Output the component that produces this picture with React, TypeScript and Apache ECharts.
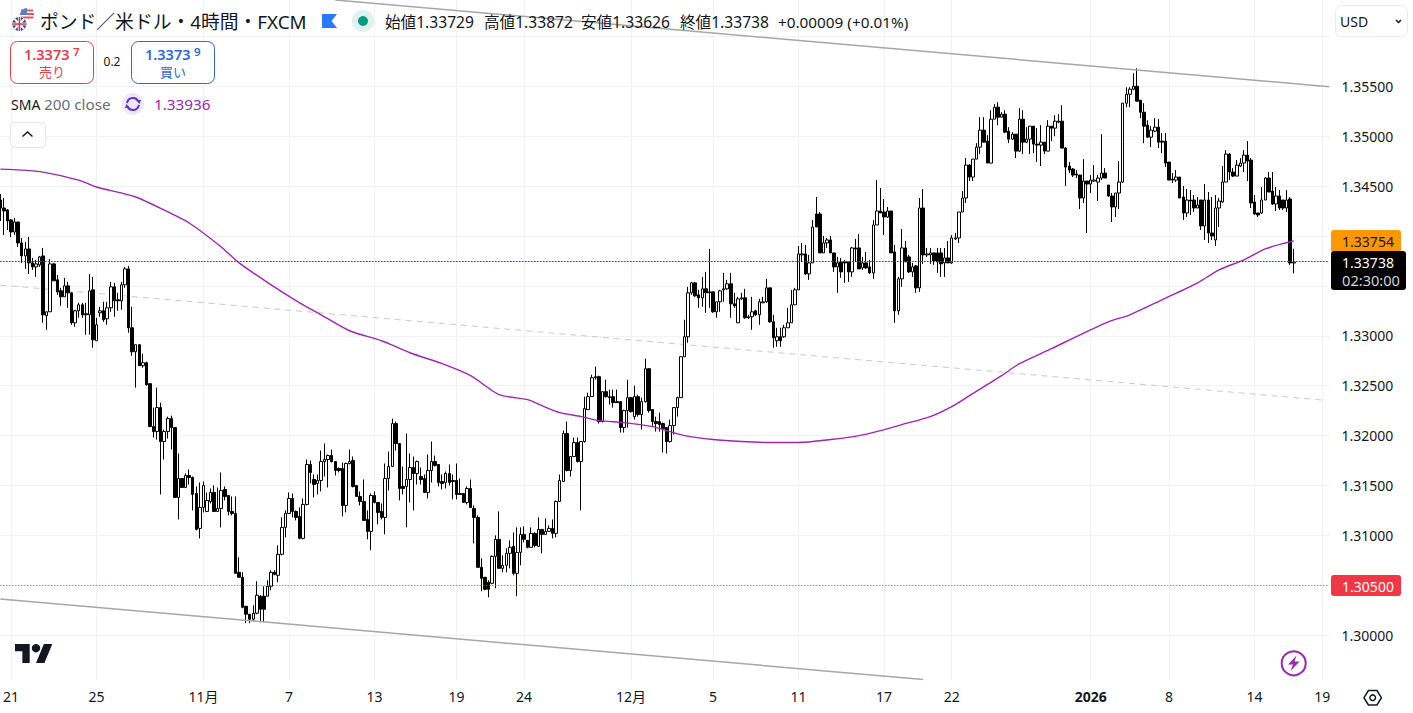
import React, { useEffect, useRef } from "react";
import * as echarts from "echarts";

// open, close, low, high — GBP/USD 4h candles
const candles: number[][] = [
[1.3436,1.3428,1.3415,1.3442],[1.3428,1.3425,1.3401,1.3438],[1.3426,1.3415,1.3406,1.3427],[1.3416,1.3404,1.3399,1.3417],[1.3404,1.3414,1.3401,1.3418],
[1.3414,1.3393,1.3389,1.3414],[1.3393,1.3380,1.3373,1.3398],[1.3380,1.3387,1.3367,1.3394],[1.3387,1.3373,1.3362,1.3399],[1.3373,1.3369,1.3366,1.3378],
[1.3369,1.3372,1.3359,1.3376],[1.3371,1.3379,1.3369,1.3380],[1.3380,1.3321,1.3313,1.3388],[1.3320,1.3324,1.3306,1.3324],[1.3324,1.3372,1.3324,1.3377],
[1.3372,1.3355,1.3355,1.3373],[1.3356,1.3344,1.3341,1.3361],[1.3345,1.3339,1.3330,1.3348],[1.3339,1.3350,1.3339,1.3358],[1.3350,1.3343,1.3328,1.3354],
[1.3343,1.3313,1.3311,1.3343],[1.3313,1.3325,1.3309,1.3326],[1.3325,1.3331,1.3318,1.3333],[1.3331,1.3321,1.3318,1.3333],[1.3322,1.3321,1.3301,1.3333],
[1.3321,1.3345,1.3301,1.3362],[1.3346,1.3296,1.3288,1.3359],[1.3295,1.3311,1.3295,1.3318],[1.3323,1.3325,1.3319,1.3329],[1.3325,1.3316,1.3314,1.3334],
[1.3317,1.3328,1.3311,1.3334],[1.3328,1.3349,1.3324,1.3354],[1.3349,1.3335,1.3319,1.3353],[1.3336,1.3335,1.3325,1.3343],[1.3335,1.3351,1.3326,1.3354],
[1.3351,1.3367,1.3348,1.3369],[1.3367,1.3308,1.3303,1.3370],[1.3308,1.3284,1.3280,1.3329],[1.3284,1.3291,1.3248,1.3291],[1.3291,1.3270,1.3270,1.3291],
[1.3270,1.3273,1.3268,1.3282],[1.3273,1.3251,1.3250,1.3274],[1.3252,1.3209,1.3209,1.3252],[1.3209,1.3204,1.3198,1.3228],[1.3204,1.3228,1.3196,1.3248],
[1.3228,1.3194,1.3141,1.3233],[1.3194,1.3204,1.3176,1.3206],[1.3204,1.3217,1.3197,1.3219],[1.3217,1.3208,1.3186,1.3220],[1.3208,1.3138,1.3138,1.3208],
[1.3138,1.3157,1.3116,1.3182],[1.3157,1.3148,1.3148,1.3157],[1.3148,1.3160,1.3148,1.3162],[1.3160,1.3158,1.3151,1.3166],[1.3158,1.3141,1.3125,1.3159],
[1.3142,1.3106,1.3105,1.3149],[1.3107,1.3128,1.3097,1.3153],[1.3128,1.3150,1.3123,1.3154],[1.3124,1.3135,1.3124,1.3143],[1.3134,1.3143,1.3132,1.3147],
[1.3143,1.3124,1.3124,1.3150],[1.3124,1.3127,1.3124,1.3148],[1.3127,1.3145,1.3108,1.3163],[1.3146,1.3139,1.3135,1.3149],[1.3140,1.3124,1.3120,1.3140],
[1.3124,1.3122,1.3120,1.3139],[1.3122,1.3062,1.3062,1.3139],[1.3063,1.3058,1.3058,1.3078],[1.3058,1.3028,1.3027,1.3063],[1.3029,1.3021,1.3012,1.3029],
[1.3021,1.3016,1.3012,1.3021],[1.3016,1.3022,1.3014,1.3030],[1.3022,1.3040,1.3021,1.3054],[1.3039,1.3026,1.3013,1.3040],[1.3039,1.3026,1.3013,1.3049],
[1.3039,1.3049,1.3039,1.3055],[1.3049,1.3063,1.3045,1.3065],[1.3063,1.3061,1.3060,1.3065],[1.3060,1.3081,1.3053,1.3090],[1.3081,1.3108,1.3080,1.3118],
[1.3108,1.3122,1.3098,1.3125],[1.3122,1.3137,1.3122,1.3143],[1.3137,1.3124,1.3118,1.3142],[1.3124,1.3118,1.3115,1.3125],[1.3119,1.3097,1.3096,1.3128],
[1.3097,1.3131,1.3096,1.3137],[1.3131,1.3171,1.3130,1.3176],[1.3171,1.3163,1.3152,1.3175],[1.3156,1.3151,1.3138,1.3161],[1.3152,1.3155,1.3141,1.3161],
[1.3155,1.3174,1.3144,1.3185],[1.3174,1.3176,1.3159,1.3192],[1.3176,1.3180,1.3148,1.3181],[1.3180,1.3174,1.3173,1.3186],[1.3174,1.3165,1.3160,1.3174],
[1.3167,1.3165,1.3163,1.3168],[1.3167,1.3130,1.3119,1.3173],[1.3130,1.3172,1.3123,1.3173],[1.3172,1.3174,1.3171,1.3186],[1.3175,1.3149,1.3148,1.3179],
[1.3150,1.3139,1.3139,1.3150],[1.3139,1.3134,1.3130,1.3144],[1.3134,1.3115,1.3115,1.3156],[1.3116,1.3104,1.3096,1.3125],[1.3104,1.3140,1.3085,1.3142],
[1.3140,1.3133,1.3132,1.3144],[1.3133,1.3123,1.3111,1.3133],[1.3124,1.3118,1.3116,1.3132],[1.3118,1.3157,1.3101,1.3172],[1.3157,1.3169,1.3145,1.3184],
[1.3169,1.3212,1.3169,1.3217],[1.3212,1.3192,1.3185,1.3214],[1.3192,1.3147,1.3135,1.3192],[1.3149,1.3147,1.3141,1.3169],[1.3149,1.3156,1.3108,1.3202],
[1.3156,1.3168,1.3133,1.3182],[1.3168,1.3162,1.3125,1.3179],[1.3162,1.3174,1.3151,1.3175],[1.3159,1.3156,1.3151,1.3168],[1.3157,1.3143,1.3143,1.3161],
[1.3143,1.3165,1.3137,1.3181],[1.3165,1.3174,1.3153,1.3194],[1.3174,1.3170,1.3169,1.3180],[1.3171,1.3153,1.3149,1.3171],[1.3154,1.3152,1.3146,1.3161],
[1.3153,1.3162,1.3147,1.3164],[1.3162,1.3153,1.3150,1.3171],[1.3155,1.3154,1.3136,1.3161],[1.3155,1.3141,1.3136,1.3172],[1.3142,1.3141,1.3141,1.3157],
[1.3142,1.3133,1.3133,1.3142],[1.3133,1.3147,1.3131,1.3149],[1.3147,1.3128,1.3128,1.3156],[1.3127,1.3118,1.3092,1.3130],[1.3118,1.3068,1.3068,1.3120],
[1.3068,1.3057,1.3044,1.3077],[1.3058,1.3046,1.3045,1.3058],[1.3053,1.3046,1.3038,1.3055],[1.3052,1.3079,1.3051,1.3080],[1.3079,1.3096,1.3047,1.3100],
[1.3096,1.3067,1.3067,1.3124],[1.3067,1.3070,1.3063,1.3080],[1.3070,1.3082,1.3063,1.3087],[1.3082,1.3088,1.3067,1.3095],[1.3089,1.3062,1.3060,1.3103],
[1.3062,1.3083,1.3039,1.3108],[1.3083,1.3101,1.3070,1.3108],[1.3101,1.3096,1.3093,1.3109],[1.3095,1.3088,1.3087,1.3095],[1.3088,1.3102,1.3088,1.3108],
[1.3102,1.3090,1.3088,1.3103],[1.3089,1.3106,1.3089,1.3118],[1.3106,1.3101,1.3082,1.3106],[1.3101,1.3104,1.3101,1.3117],[1.3104,1.3107,1.3104,1.3110],
[1.3107,1.3102,1.3097,1.3116],[1.3102,1.3134,1.3098,1.3135],[1.3134,1.3155,1.3134,1.3161],[1.3154,1.3202,1.3154,1.3205],[1.3202,1.3165,1.3164,1.3214],
[1.3165,1.3179,1.3159,1.3179],[1.3179,1.3193,1.3179,1.3198],[1.3193,1.3174,1.3173,1.3198],[1.3174,1.3194,1.3125,1.3194],[1.3194,1.3227,1.3193,1.3239],
[1.3226,1.3239,1.3226,1.3243],[1.3239,1.3258,1.3239,1.3261],[1.3258,1.3259,1.3256,1.3269],[1.3259,1.3214,1.3212,1.3260],[1.3214,1.3244,1.3213,1.3244],
[1.3244,1.3239,1.3238,1.3256],[1.3239,1.3238,1.3231,1.3246],[1.3239,1.3233,1.3228,1.3246],[1.3234,1.3233,1.3233,1.3246],[1.3234,1.3208,1.3203,1.3234],
[1.3208,1.3225,1.3203,1.3226],[1.3225,1.3238,1.3208,1.3256],[1.3238,1.3224,1.3223,1.3238],[1.3219,1.3239,1.3216,1.3250],[1.3239,1.3221,1.3219,1.3241],
[1.3221,1.3234,1.3206,1.3238],[1.3234,1.3267,1.3233,1.3277],[1.3267,1.3225,1.3223,1.3267],[1.3226,1.3214,1.3209,1.3226],[1.3214,1.3212,1.3204,1.3219],
[1.3214,1.3211,1.3204,1.3223],[1.3212,1.3207,1.3183,1.3213],[1.3208,1.3194,1.3182,1.3208],[1.3194,1.3210,1.3193,1.3216],[1.3210,1.3228,1.3201,1.3228],
[1.3228,1.3238,1.3219,1.3239],[1.3238,1.3279,1.3238,1.3279],[1.3279,1.3299,1.3279,1.3316],[1.3299,1.3343,1.3293,1.3349],[1.3343,1.3353,1.3341,1.3354],
[1.3353,1.3340,1.3339,1.3354],[1.3341,1.3338,1.3328,1.3346],[1.3338,1.3347,1.3329,1.3359],[1.3347,1.3343,1.3323,1.3364],[1.3344,1.3343,1.3328,1.3387],
[1.3344,1.3324,1.3323,1.3344],[1.3324,1.3334,1.3318,1.3334],[1.3334,1.3345,1.3324,1.3346],[1.3346,1.3347,1.3334,1.3363],[1.3347,1.3352,1.3346,1.3356],
[1.3352,1.3332,1.3318,1.3363],[1.3332,1.3330,1.3328,1.3343],[1.3313,1.3337,1.3313,1.3339],[1.3337,1.3338,1.3336,1.3343],[1.3338,1.3318,1.3317,1.3347],
[1.3318,1.3319,1.3317,1.3321],[1.3319,1.3324,1.3306,1.3339],[1.3325,1.3321,1.3320,1.3326],[1.3321,1.3334,1.3311,1.3337],[1.3333,1.3334,1.3333,1.3339],
[1.3334,1.3348,1.3333,1.3357],[1.3348,1.3314,1.3313,1.3348],[1.3314,1.3298,1.3288,1.3321],[1.3295,1.3299,1.3289,1.3308],[1.3299,1.3295,1.3289,1.3308],
[1.3299,1.3308,1.3298,1.3311],[1.3308,1.3313,1.3308,1.3328],[1.3313,1.3331,1.3313,1.3346],[1.3331,1.3346,1.3331,1.3348],[1.3346,1.3382,1.3346,1.3390],
[1.3381,1.3382,1.3374,1.3393],[1.3382,1.3362,1.3361,1.3391],[1.3362,1.3373,1.3356,1.3381],[1.3373,1.3409,1.3373,1.3416],[1.3422,1.3409,1.3409,1.3439],
[1.3422,1.3383,1.3383,1.3424],[1.3383,1.3393,1.3383,1.3400],[1.3393,1.3396,1.3388,1.3398],[1.3396,1.3383,1.3383,1.3400],[1.3383,1.3369,1.3364,1.3383],
[1.3369,1.3373,1.3343,1.3379],[1.3374,1.3364,1.3358,1.3378],[1.3374,1.3373,1.3353,1.3376],[1.3374,1.3364,1.3354,1.3374],[1.3364,1.3388,1.3359,1.3389],
[1.3388,1.3387,1.3374,1.3397],[1.3388,1.3367,1.3367,1.3402],[1.3368,1.3373,1.3366,1.3379],[1.3373,1.3368,1.3367,1.3384],[1.3369,1.3363,1.3362,1.3376],
[1.3363,1.3411,1.3357,1.3416],[1.3411,1.3425,1.3411,1.3456],[1.3425,1.3423,1.3423,1.3448],[1.3424,1.3419,1.3401,1.3437],[1.3419,1.3425,1.3418,1.3429],
[1.3425,1.3383,1.3383,1.3425],[1.3384,1.3325,1.3313,1.3391],[1.3325,1.3357,1.3321,1.3359],[1.3357,1.3388,1.3349,1.3407],[1.3388,1.3374,1.3374,1.3395],
[1.3379,1.3364,1.3363,1.3381],[1.3364,1.3369,1.3359,1.3373],[1.3370,1.3348,1.3343,1.3371],[1.3348,1.3428,1.3344,1.3438],[1.3428,1.3381,1.3372,1.3447],
[1.3381,1.3382,1.3379,1.3388],[1.3381,1.3383,1.3372,1.3388],[1.3383,1.3375,1.3371,1.3383],[1.3383,1.3374,1.3363,1.3388],[1.3383,1.3372,1.3359,1.3388],
[1.3373,1.3378,1.3359,1.3388],[1.3378,1.3373,1.3373,1.3395],[1.3373,1.3398,1.3372,1.3401],[1.3397,1.3398,1.3396,1.3403],[1.3398,1.3424,1.3393,1.3424],
[1.3424,1.3438,1.3424,1.3445],[1.3438,1.3471,1.3433,1.3478],[1.3471,1.3459,1.3455,1.3472],[1.3459,1.3477,1.3455,1.3477],[1.3477,1.3489,1.3477,1.3493],
[1.3489,1.3506,1.3482,1.3519],[1.3506,1.3494,1.3494,1.3519],[1.3495,1.3473,1.3473,1.3501],[1.3473,1.3517,1.3473,1.3526],[1.3517,1.3529,1.3517,1.3532],
[1.3529,1.3519,1.3511,1.3534],[1.3519,1.3522,1.3519,1.3524],[1.3522,1.3504,1.3503,1.3526],[1.3505,1.3497,1.3493,1.3509],[1.3497,1.3502,1.3496,1.3504],
[1.3502,1.3485,1.3478,1.3502],[1.3485,1.3517,1.3484,1.3528],[1.3517,1.3494,1.3482,1.3526],[1.3494,1.3497,1.3493,1.3509],[1.3497,1.3510,1.3482,1.3510],
[1.3510,1.3492,1.3483,1.3510],[1.3492,1.3491,1.3474,1.3508],[1.3491,1.3494,1.3470,1.3511],[1.3494,1.3485,1.3482,1.3494],[1.3485,1.3510,1.3485,1.3516],
[1.3510,1.3508,1.3495,1.3510],[1.3508,1.3515,1.3500,1.3521],[1.3514,1.3515,1.3513,1.3522],[1.3515,1.3488,1.3488,1.3531],[1.3488,1.3469,1.3450,1.3489],
[1.3470,1.3466,1.3463,1.3474],[1.3467,1.3461,1.3459,1.3468],[1.3462,1.3461,1.3458,1.3466],[1.3461,1.3438,1.3427,1.3461],[1.3438,1.3455,1.3433,1.3477],
[1.3455,1.3452,1.3403,1.3455],[1.3452,1.3456,1.3443,1.3461],[1.3455,1.3456,1.3454,1.3471],[1.3454,1.3458,1.3435,1.3461],[1.3458,1.3463,1.3456,1.3502],
[1.3463,1.3458,1.3458,1.3468],[1.3451,1.3440,1.3439,1.3451],[1.3440,1.3429,1.3414,1.3443],[1.3429,1.3443,1.3419,1.3443],[1.3443,1.3454,1.3427,1.3475],
[1.3454,1.3533,1.3453,1.3533],[1.3533,1.3542,1.3529,1.3549],[1.3542,1.3547,1.3529,1.3549],[1.3547,1.3550,1.3546,1.3563],[1.3550,1.3535,1.3535,1.3568],
[1.3536,1.3524,1.3518,1.3536],[1.3524,1.3510,1.3493,1.3533],[1.3511,1.3499,1.3498,1.3516],[1.3499,1.3506,1.3489,1.3510],[1.3505,1.3509,1.3504,1.3518],
[1.3509,1.3494,1.3488,1.3517],[1.3495,1.3494,1.3483,1.3503],[1.3495,1.3473,1.3469,1.3503],[1.3474,1.3456,1.3456,1.3474],[1.3457,1.3456,1.3453,1.3463],
[1.3456,1.3459,1.3454,1.3466],[1.3459,1.3438,1.3438,1.3459],[1.3439,1.3423,1.3416,1.3450],[1.3423,1.3436,1.3419,1.3447],[1.3436,1.3435,1.3421,1.3446],
[1.3436,1.3428,1.3424,1.3441],[1.3428,1.3431,1.3428,1.3439],[1.3436,1.3410,1.3406,1.3436],[1.3410,1.3436,1.3396,1.3452],[1.3436,1.3403,1.3393,1.3444],
[1.3403,1.3400,1.3396,1.3439],[1.3396,1.3428,1.3390,1.3441],[1.3428,1.3435,1.3409,1.3438],[1.3434,1.3454,1.3433,1.3470],[1.3454,1.3482,1.3454,1.3486],
[1.3482,1.3464,1.3456,1.3483],[1.3464,1.3460,1.3459,1.3468],[1.3460,1.3471,1.3460,1.3476],[1.3470,1.3473,1.3469,1.3478],[1.3473,1.3481,1.3464,1.3486],
[1.3481,1.3475,1.3455,1.3495],[1.3476,1.3433,1.3428,1.3478],[1.3434,1.3422,1.3421,1.3441],[1.3423,1.3421,1.3419,1.3423],[1.3423,1.3436,1.3422,1.3449],
[1.3436,1.3458,1.3436,1.3459],[1.3458,1.3444,1.3444,1.3464],[1.3445,1.3432,1.3431,1.3464],[1.3432,1.3440,1.3425,1.3449],[1.3440,1.3428,1.3426,1.3446],
[1.3436,1.3428,1.3426,1.3436],[1.3428,1.3436,1.3424,1.3446],[1.3437,1.33729,1.3371,1.3439],[1.33729,1.33738,1.33626,1.33872],
];

const slotCount = 374;
const tickIndexes = [3, 27, 57, 81, 105, 128, 147, 177, 200, 224, 248, 267, 306, 328, 352, 371];
const tickLabels = ["21", "25", "11月", "7", "13", "19", "24", "12月", "5", "11", "17", "22", "2026", "8", "14", "19"];
const priceGridTicks = [1.3, 1.305, 1.31, 1.315, 1.32, 1.325, 1.33, 1.335, 1.34, 1.345, 1.35, 1.355, 1.36];
const priceLabelTicks = [1.3, 1.31, 1.315, 1.32, 1.325, 1.33, 1.345, 1.35, 1.355];

const smaIndexes = [0,6,12,22,27,38,47,53,62,67,76,84,90,98,107,115,124,132,140,148,152,157,163,168,175,183,187,192,200,208,217,224,233,241,247,253,261,267,272,281,286,295,303,311,317,326,336,342,349,355,363];
const smaValues = [1.3467,1.3466,1.3464,1.3456,1.3449,1.3439,1.3424,1.3413,1.3389,1.3373,1.3351,1.3333,1.3321,1.3305,1.3295,1.3283,1.3272,1.3260,1.3241,1.3236,1.3230,1.3223,1.3219,1.3215,1.3213,1.3209,1.3205,1.3200,1.3196,1.3194,1.3193,1.3193,1.3196,1.3200,1.3205,1.3211,1.3219,1.3229,1.3240,1.3260,1.3272,1.3287,1.3301,1.3314,1.3321,1.3336,1.3353,1.3366,1.3376,1.3387,1.3395];

const upperChannel = [[94, 1.36364], [373, 1.35495]];
const lowerChannel = [[0, 1.30363], [259, 1.29556]];
const midChannel = [[0, 1.33508], [371, 1.32356]];
const lastPriceLevel = 1.33744;
const supportLevel = 1.30498;

const FONT = '"Noto Sans", "Noto Sans CJK JP", sans-serif';
const INK = "#131722";

function txt(text: string, x: number, y: number, size: number, fill = INK, extra: any = {}) {
  return {
    type: "text", x, y, z: 100, silent: true,
    style: { text, fill, font: `${extra.weight || "normal"} ${size}px ${FONT}`, align: extra.align || "left", verticalAlign: "middle" },
  };
}
function shape(type: string, sh: any, style: any, z = 100) {
  return { type, shape: sh, style, z, silent: true };
}

function lineSeries(data: number[][], color: string, width: number, type: any, z: number, extra: any = {}) {
  return { type: "line", data, symbol: "none", silent: true, z, lineStyle: { color, width, type, ...extra }, clip: true };
}

export default function App() {
  const ref = useRef<HTMLDivElement>(null);
  useEffect(() => {
    echarts.graphic.registerShape("tvlogo", echarts.graphic.extendPath("M14 22H7V11H0V4h14v18zM28 22h-8l7.5-18h8L28 22z", {} as any) as any);
    const chart = echarts.init(ref.current!, undefined, { renderer: "svg" });
    const categories = Array.from({ length: slotCount }, (_, i) => {
      const k = tickIndexes.indexOf(i);
      return k >= 0 ? tickLabels[k] : "";
    });
    const sellBuy = (x: number, color: string, a: string, b: string, t: string) => [
      shape("rect", { x: x + 0.5, y: 41.5, width: 83, height: 42, r: 7 }, { fill: "#fff", stroke: color, lineWidth: 1 }),
      txt(a, x + 14, 54, 14.5, color, { weight: 600 }),
      txt(b, x + 63, 51.5, 11.5, color, { weight: 600 }),
      txt(t, x + 42, 71.5, 13, color, { align: "center" }),
    ];

    const graphics: any[] = [
      // flags
      shape("circle", { cx: 27, cy: 15, r: 7 }, { fill: "#fff" }),
      shape("rect", { x: 21, y: 9.5, width: 12, height: 2 }, { fill: "#e05a5a" }),
      shape("rect", { x: 20, y: 13, width: 14, height: 2 }, { fill: "#e05a5a" }),
      shape("rect", { x: 20.5, y: 16.5, width: 13, height: 2 }, { fill: "#e05a5a" }),
      shape("sector", { cx: 27, cy: 15, r: 7, r0: 0, startAngle: Math.PI, endAngle: 1.5 * Math.PI }, { fill: "#5b7fc7" }),
      shape("circle", { cx: 19.3, cy: 24, r: 7.5 }, { fill: "#fff" }),
      shape("circle", { cx: 19.3, cy: 24, r: 7 }, { fill: "#2b3f8c" }),
      shape("line", { x1: 14.5, y1: 19, x2: 24, y2: 29 }, { stroke: "#fff", lineWidth: 2 }),
      shape("line", { x1: 24, y1: 19, x2: 14.5, y2: 29 }, { stroke: "#fff", lineWidth: 2 }),
      shape("rect", { x: 12.5, y: 22.5, width: 14, height: 3 }, { fill: "#fff" }),
      shape("rect", { x: 17.8, y: 17, width: 3, height: 14 }, { fill: "#fff" }),
      shape("rect", { x: 12.5, y: 23.3, width: 14, height: 1.5 }, { fill: "#d9363e" }),
      shape("rect", { x: 18.6, y: 17, width: 1.5, height: 14 }, { fill: "#d9363e" }),

      txt("ポンド／米ドル・4時間・FXCM", 40, 22, 18.8),
      shape("polygon", { points: [[322, 14], [337, 14], [331.5, 21], [337, 28], [322, 28]] }, { fill: "#2979ff" }),
      shape("circle", { cx: 363, cy: 21, r: 11 }, { fill: "#dff2ee" }),
      shape("circle", { cx: 363, cy: 21, r: 5 }, { fill: "#089981" }),

      txt("始値1.33729", 385, 22, 15.6), txt("高値1.33872", 484, 22, 15.6),
      txt("安値1.33626", 581, 22, 15.6), txt("終値1.33738", 680, 22, 15.6),
      txt("+0.00009 (+0.01%)", 778, 22, 15.3),

      ...sellBuy(10, "#e0414f", "1.3373", "7", "売り"),
      txt("0.2", 112, 61, 12, INK, { align: "center" }),
      ...sellBuy(131, "#2f66d8", "1.3373", "9", "買い"),

      txt("SMA", 11, 104, 14), txt("200 close", 44, 104, 15.3, "#6a6d78"),
      shape("circle", { cx: 133, cy: 104, r: 11 }, { fill: "#ede7f6" }),
      shape("arc", { cx: 133, cy: 104, r: 6, startAngle: Math.PI * 1.05, endAngle: Math.PI * 1.85 }, { stroke: "#5e35d1", lineWidth: 2, fill: "none" }),
      shape("arc", { cx: 133, cy: 104, r: 6, startAngle: Math.PI * 0.05, endAngle: Math.PI * 0.85 }, { stroke: "#5e35d1", lineWidth: 2, fill: "none" }),
      shape("polygon", { points: [[136, 100], [141, 100], [139.5, 104]] }, { fill: "#5e35d1" }),
      shape("polygon", { points: [[130, 108], [125, 108], [126.5, 104]] }, { fill: "#5e35d1" }),
      txt("1.33936", 154, 104, 15.3, "#9c27b0"),

      shape("rect", { x: 10.5, y: 122.5, width: 35, height: 25, r: 4 }, { fill: "#fff", stroke: "#e0e3eb", lineWidth: 1 }),
      shape("polyline", { points: [[22.5, 136.5], [27.5, 132], [32.5, 136.5]] }, { stroke: INK, lineWidth: 1.5, fill: "none" }),

      shape("rect", { x: 1335.5, y: 5.5, width: 72, height: 31, r: 6 }, { fill: "#fff", stroke: "#e8eaf0", lineWidth: 1 }),
      txt("USD", 1340, 21.5, 14),
      shape("polyline", { points: [[1396, 20], [1398.5, 22.5], [1401, 20]] }, { stroke: INK, lineWidth: 1.5, fill: "none" }),

      shape("rect", { x: 1331, y: 230, width: 70, height: 21, r: [3, 3, 0, 0] }, { fill: "#ff9800" }),
      txt("1.33754", 1368, 241, 14, INK, { align: "center" }),
      shape("rect", { x: 1331, y: 251, width: 75, height: 39, r: 3 }, { fill: "#000" }),
      txt("1.33738", 1368, 262, 14, "#fff", { align: "center" }),
      txt("02:30:00", 1371, 280, 14.6, "#d1d4dc", { align: "center" }),
      shape("rect", { x: 1331, y: 575, width: 70, height: 21, r: 3 }, { fill: "#f23645" }),
      txt("1.30500", 1368, 586, 14, "#fff", { align: "center" }),

      { type: "tvlogo", x: 15, y: 639.8, scaleX: 1.05, scaleY: 1.05, z: 100, silent: true, style: { fill: "#131722" } },
      shape("circle", { cx: 36, cy: 648.2, r: 4.2 }, { fill: "#131722" }),

      shape("circle", { cx: 1293.7, cy: 663.3, r: 12 }, { fill: "#fff", stroke: "#9c27b0", lineWidth: 2 }),
      shape("polygon", { points: [[1296.5, 655.5], [1288, 664.5], [1293, 664.5], [1290.5, 671], [1299.5, 661.5], [1294.5, 661.5]] }, { fill: "#9c27b0" }),
      shape("polygon", { points: [[1364, 697.7], [1368.4, 690.5], [1377, 690.5], [1381.4, 697.7], [1377, 705], [1368.4, 705]] }, { fill: "none", stroke: INK, lineWidth: 1.5 }),
      shape("circle", { cx: 1372.7, cy: 697.7, r: 2.8 }, { fill: "none", stroke: INK, lineWidth: 1.5 }),
    ];

    chart.setOption({
      animation: false,
      backgroundColor: "#ffffff",
      textStyle: { fontFamily: FONT },
      grid: { left: 0, top: 0, width: 1329.4, height: 680, containLabel: false },
      xAxis: {
        type: "category",
        data: categories,
        boundaryGap: false,
        axisLine: { show: false },
        axisTick: { show: false },
        axisLabel: {
          interval: (i: number) => tickIndexes.includes(i),
          hideOverlap: false,
          color: INK,
          fontSize: 14,
          fontFamily: FONT,
          margin: 9,
          formatter: (v: string) => (v === "2026" ? "{b|2026}" : v),
          rich: { b: { fontWeight: "bold", fontSize: 14, color: INK, fontFamily: FONT } },
        },
        splitLine: {
          show: true,
          interval: (i: number) => tickIndexes.includes(i),
          lineStyle: { color: "#f0f1f4", width: 1 },
        },
      },
      yAxis: {
        type: "value",
        position: "right",
        min: 1.29551,
        max: 1.36364,
        scale: true,
        axisLine: { show: false },
        axisTick: { show: false, customValues: priceGridTicks },
        axisLabel: {
          customValues: priceLabelTicks,
          color: INK,
          fontSize: 14,
          fontFamily: FONT,
          margin: 12,
          formatter: (v: number) => v.toFixed(5),
        },
        splitLine: { show: true, lineStyle: { color: "#f0f1f4", width: 1 } },
      },
      graphic: graphics,
      series: [
        {
          type: "candlestick",
          data: candles,
          barWidth: 3,
          z: 3,
          silent: true,
          itemStyle: { color: "#ffffff", color0: "#000000", borderColor: "#000000", borderColor0: "#000000", borderWidth: 1 },
        },
        { ...lineSeries(smaIndexes.map((x, i) => [x, smaValues[i]]), "#9c27b0", 1.4, "solid", 6), smooth: 0.25 },
        lineSeries(upperChannel, "#a6a6a6", 1.5, "solid", 5),
        lineSeries(lowerChannel, "#a6a6a6", 1.5, "solid", 5),
        lineSeries(midChannel, "#c9c9c9", 1, [6, 5], 2),
        lineSeries([[0, lastPriceLevel], [373, lastPriceLevel]], "#ff9800", 1, [1, 2], 7, { dashOffset: 2 }),
        lineSeries([[0, lastPriceLevel], [373, lastPriceLevel]], "#000000", 1, [1, 2], 8),
        lineSeries([[0, supportLevel], [373, supportLevel]], "#f23645", 1, [1, 2], 7),
      ],
    });
    return () => chart.dispose();
  }, []);
  return <div ref={ref} style={{ position: "fixed", left: 0, top: 0, width: 1413, height: 713, background: "#fff" }} />;
}
